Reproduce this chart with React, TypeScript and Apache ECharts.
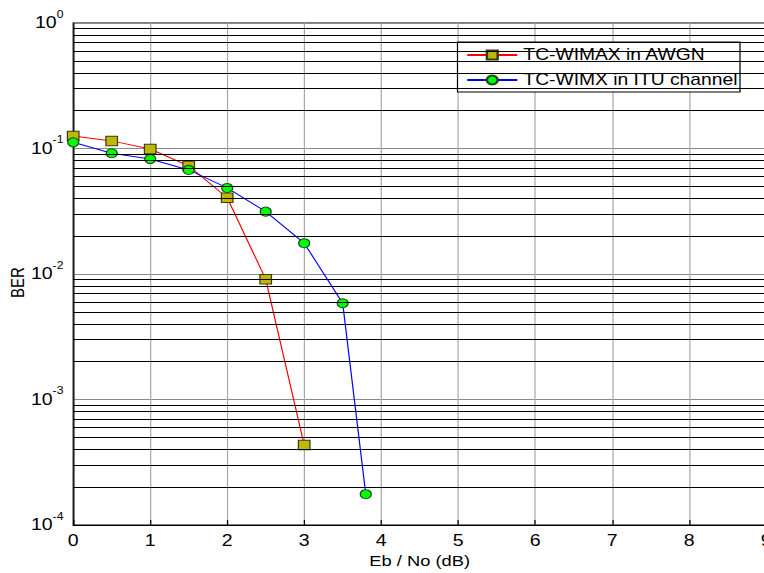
import React, { useEffect, useRef } from 'react';
import * as echarts from 'echarts';

// ---- data ----
const awgnEbNo = [0, 0.5, 1, 1.5, 2, 2.5, 3];
const awgnBer = [0.126, 0.115, 0.099, 0.0726, 0.0405, 0.0091, 0.000434];
const ituEbNo = [0, 0.5, 1, 1.5, 2, 2.5, 3, 3.5, 3.8];
const ituBer = [0.112, 0.0916, 0.0824, 0.0675, 0.0485, 0.0314, 0.0176, 0.00585, 0.000176];
const seriesNames = ['TC-WIMAX in AWGN', 'TC-WIMX in ITU channel'];
const xTickValues = [0, 1, 2, 3, 4, 5, 6, 7, 8, 9];
const decades = [1e-4, 1e-3, 1e-2, 1e-1];
const mantissas = [2, 3, 4, 5, 6, 7, 8, 9];

const SX = 1.22; // the reference picture is horizontally stretched
const FONT = '"Liberation Sans", Arial, Helvetica, sans-serif';

const minorLevels: number[] = [];
decades.forEach((d) => mantissas.forEach((m) => minorLevels.push(+(m * d).toPrecision(3))));

const option: any = {
  animation: false,
  backgroundColor: '#ffffff',
  grid: {
    left: 60,
    top: 23,
    width: 568,
    height: 502,
    show: true,
    borderColor: '#000',
    borderWidth: 1,
    backgroundColor: 'transparent',
    containLabel: false,
    outerBoundsMode: 'none',
  },
  legend: {
    data: seriesNames,
    orient: 'vertical',
    left: 375,
    top: 42,
    padding: [5, 2, 4, 7],
    itemGap: 9,
    itemWidth: 41,
    itemHeight: 11,
    backgroundColor: '#fff',
    borderColor: '#000',
    borderWidth: 1,
    borderRadius: 0,
    selectedMode: false,
    textStyle: { fontSize: 15.8, color: '#000', fontFamily: FONT },
  },
  xAxis: {
    type: 'value',
    min: xTickValues[0],
    max: xTickValues[xTickValues.length - 1],
    interval: 1,
    name: 'Eb / No (dB)',
    nameLocation: 'middle',
    nameGap: 29,
    nameMoveOverlap: false,
    nameTextStyle: { fontSize: 15, color: '#000', fontFamily: FONT },
    axisLine: { show: true, onZero: false, lineStyle: { color: '#000', width: 1 } },
    axisTick: { show: true, inside: true, length: 5, lineStyle: { color: '#000' } },
    axisLabel: { fontSize: 16, color: '#000', margin: 8, fontFamily: FONT },
    splitLine: { show: true, lineStyle: { color: '#a8a8a8', width: 1 } },
  },
  yAxis: {
    type: 'log',
    logBase: 10,
    min: 1e-4,
    max: 1,
    name: 'BER',
    nameLocation: 'middle',
    nameRotate: 90,
    nameGap: 38,
    nameMoveOverlap: false,
    nameTextStyle: { fontSize: 15, color: '#000', fontFamily: FONT, padding: [0, 17, 0, 0] },
    axisLine: { show: true, lineStyle: { color: '#000', width: 1 } },
    axisTick: { show: false },
    axisLabel: {
      margin: 8,
      formatter: (v: number) => `{b|10}{s|${Math.round(Math.log10(v))}}`,
      rich: {
        b: { fontSize: 16, color: '#000', fontFamily: FONT },
        s: { fontSize: 10, color: '#000', fontFamily: FONT, padding: [0, 0, 18, 0] },
      },
    },
    splitLine: { show: true, lineStyle: { color: '#8a8a8a', width: 1 } },
  },
  series: [
    {
      name: 'minor-grid',
      type: 'line',
      data: [],
      z: 1,
      silent: true,
      symbol: 'none',
      markLine: {
        silent: true,
        animation: false,
        precision: 8,
        symbol: ['none', 'none'],
        label: { show: false },
        lineStyle: { color: '#000', width: 1, type: 'solid' },
        emphasis: { disabled: true },
        data: minorLevels.map((v) => ({ yAxis: v })),
      },
    },
    {
      name: seriesNames[0],
      type: 'line',
      z: 3,
      data: awgnEbNo.map((x, i) => [x, awgnBer[i]]),
      symbol: 'rect',
      symbolSize: 9.5,
      showAllSymbol: true,
      lineStyle: { color: '#ff0000', width: 1 },
      itemStyle: { color: '#bfb800', borderColor: '#3a3a1a', borderWidth: 1 },
      emphasis: { disabled: true },
    },
    {
      name: seriesNames[1],
      type: 'line',
      z: 4,
      data: ituEbNo.map((x, i) => [x, ituBer[i]]),
      symbol: 'circle',
      symbolSize: 9,
      showAllSymbol: true,
      lineStyle: { color: '#0000ff', width: 1 },
      itemStyle: { color: '#00ff00', borderColor: '#1d4d1d', borderWidth: 1 },
      emphasis: { disabled: true },
    },
  ],
};

export default function App() {
  const ref = useRef<HTMLDivElement>(null);
  useEffect(() => {
    const chart = echarts.init(ref.current!, null, { renderer: 'svg' });
    chart.setOption(option);
    return () => chart.dispose();
  }, []);
  return (
    <div
      style={{
        position: 'fixed',
        left: 0,
        top: 0,
        width: 764,
        height: 573,
        overflow: 'hidden',
        background: '#fff',
      }}
    >
      <div
        ref={ref}
        style={{ width: 627, height: 573, transform: `scaleX(${SX})`, transformOrigin: '0 0' }}
      />
    </div>
  );
}
